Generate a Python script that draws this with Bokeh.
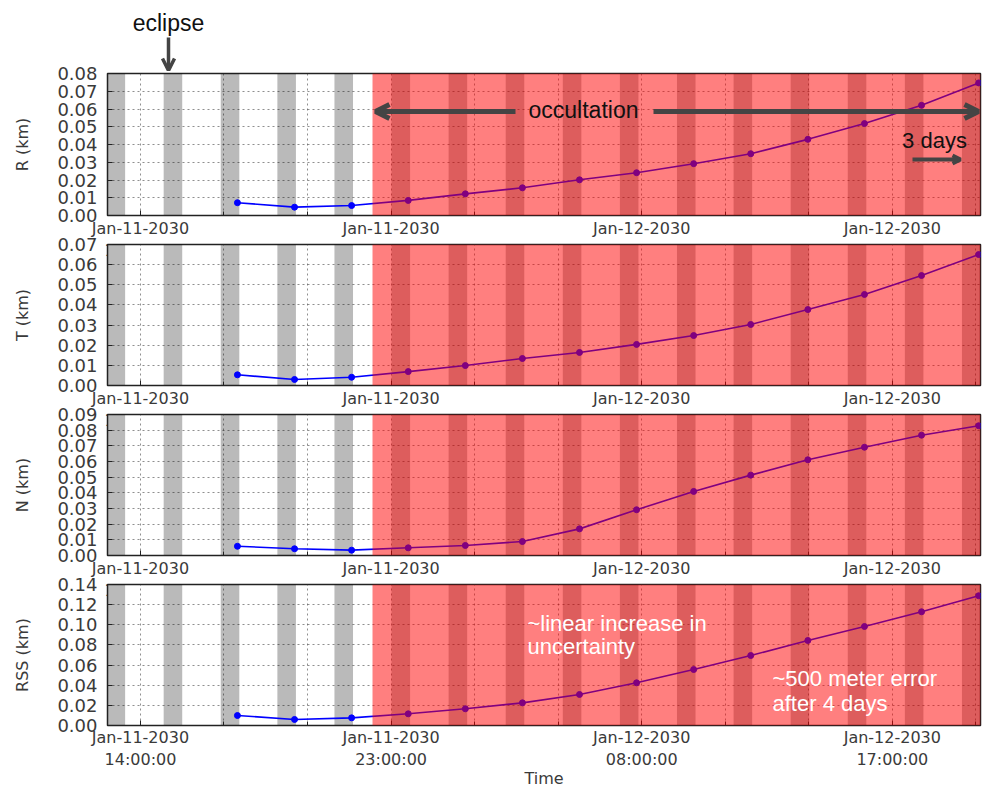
import pandas as pd
from bokeh.plotting import figure
from bokeh.models import (Range1d, FixedTicker, DatetimeTickFormatter, PrintfTickFormatter,
                          BoxAnnotation, Label, Arrow, OpenHead, ColumnDataSource)
from bokeh.layouts import column
from bokeh.embed import file_html
from bokeh.resources import INLINE

# ---------------- data ----------------
x_start = "2030-01-11 12:49"
x_end = "2030-01-12 20:10"

times = ["2030-01-11 17:29", "2030-01-11 19:32", "2030-01-11 21:35", "2030-01-11 23:37",
         "2030-01-12 01:40", "2030-01-12 03:43", "2030-01-12 05:46", "2030-01-12 07:49",
         "2030-01-12 09:52", "2030-01-12 11:55", "2030-01-12 13:58", "2030-01-12 16:00",
         "2030-01-12 18:03", "2030-01-12 20:06"]

R_km = [0.0072, 0.0047, 0.0056, 0.0085, 0.0122, 0.0156, 0.0201, 0.0241, 0.0292, 0.0348,
        0.0429, 0.0518, 0.0621, 0.0747]
T_km = [0.0053, 0.0030, 0.0041, 0.0069, 0.0099, 0.0134, 0.0164, 0.0204, 0.0248, 0.0303,
        0.0377, 0.0452, 0.0546, 0.0650]
N_km = [0.0059, 0.0043, 0.0034, 0.0049, 0.0064, 0.0089, 0.0170, 0.0292, 0.0409, 0.0513,
        0.0611, 0.0691, 0.0768, 0.0828]
RSS_km = [0.0099, 0.0060, 0.0076, 0.0116, 0.0166, 0.0225, 0.0308, 0.0424, 0.0556, 0.0695,
          0.0844, 0.0983, 0.1129, 0.1288]

eclipse_start = ["2030-01-11 12:47", "2030-01-11 14:50", "2030-01-11 16:53", "2030-01-11 18:55",
                 "2030-01-11 20:58", "2030-01-11 23:01", "2030-01-12 01:04", "2030-01-12 03:07",
                 "2030-01-12 05:10", "2030-01-12 07:13", "2030-01-12 09:16", "2030-01-12 11:18",
                 "2030-01-12 13:21", "2030-01-12 15:24", "2030-01-12 17:27", "2030-01-12 19:30"]
eclipse_end = ["2030-01-11 13:27", "2030-01-11 15:30", "2030-01-11 17:33", "2030-01-11 19:35",
               "2030-01-11 21:38", "2030-01-11 23:41", "2030-01-12 01:44", "2030-01-12 03:47",
               "2030-01-12 05:50", "2030-01-12 07:53", "2030-01-12 09:56", "2030-01-12 11:58",
               "2030-01-12 14:01", "2030-01-12 16:04", "2030-01-12 18:07", "2030-01-12 20:10"]

occultation_start = "2030-01-11 22:20"

label_ticks = ["2030-01-11 14:00", "2030-01-11 23:00", "2030-01-12 08:00", "2030-01-12 17:00"]
grid_ticks = ["2030-01-11 14:00", "2030-01-11 17:00", "2030-01-11 20:00", "2030-01-11 23:00",
              "2030-01-12 02:00", "2030-01-12 05:00", "2030-01-12 08:00", "2030-01-12 11:00",
              "2030-01-12 14:00", "2030-01-12 17:00", "2030-01-12 20:00"]

R_ticks = [0.00, 0.01, 0.02, 0.03, 0.04, 0.05, 0.06, 0.07, 0.08]
T_ticks = [0.00, 0.01, 0.02, 0.03, 0.04, 0.05, 0.06, 0.07]
N_ticks = [0.00, 0.01, 0.02, 0.03, 0.04, 0.05, 0.06, 0.07, 0.08, 0.09]
RSS_ticks = [0.00, 0.02, 0.04, 0.06, 0.08, 0.10, 0.12, 0.14]

y_labels = ["R (km)", "T (km)", "N (km)", "RSS (km)"]
x_label = "Time"


def ms(s):
    return pd.Timestamp(s).value / 1e6


TICK_FONT = "DejaVu Sans"
ANN_FONT = "Liberation Sans"
ARC = "#444444"
fmt = "%b-%d-%Y\n%H:%M:%S"
W = 990
LB = 107
RB = 10


def strip(height, margin_top=0):
    s = figure(width=W, height=height, x_range=Range1d(0, 1), y_range=Range1d(0, 1),
               output_backend="svg", toolbar_location=None, x_axis_location=None,
               y_axis_location=None, min_border_left=LB, min_border_right=RB,
               min_border_top=0, min_border_bottom=0)
    s.outline_line_color = None
    s.grid.visible = False
    s.background_fill_alpha = 0
    s.border_fill_alpha = 0
    if margin_top:
        s.margin = (margin_top, 0, 0, 0)
    return s


# ---------------- header strip (eclipse annotation) ----------------
head = strip(71)
head.add_layout(Label(x=61, y=49, x_units="screen", y_units="screen", text="eclipse",
                      text_font=ANN_FONT, text_font_size="23px", text_align="center",
                      text_baseline="middle", text_color="#111111"))
head.add_layout(Arrow(x_start=61, y_start=34, x_end=61, y_end=1, start_units="screen",
                      end_units="screen", line_width=3.5, line_color=ARC,
                      end=OpenHead(size=12, line_width=3.5, line_color=ARC)))

panels = [(y_labels[0], R_km, R_ticks), (y_labels[1], T_km, T_ticks),
          (y_labels[2], N_km, N_ticks), (y_labels[3], RSS_km, RSS_ticks)]

figs = []
for i, (ylab, vals, yt) in enumerate(panels):
    first = i == 0
    last = i == 3
    top_b = 12 if first else 10
    plot_h = 142 if first else 141
    bot_b = 54 if last else 60
    p = figure(width=W, height=top_b + plot_h + bot_b, x_axis_type="datetime",
               x_range=Range1d(ms(x_start), ms(x_end)), y_range=Range1d(yt[0], yt[-1]),
               output_backend="svg", toolbar_location=None,
               min_border_left=LB, min_border_right=RB, min_border_top=top_b,
               min_border_bottom=bot_b)
    p.margin = (-10 if first else -41, 0, 0, 0)
    p.border_fill_alpha = 0
    p.background_fill_color = "white"
    p.outline_line_color = "#222222"
    p.outline_line_width = 1.5

    ecl = ColumnDataSource(dict(left=pd.to_datetime(eclipse_start),
                                right=pd.to_datetime(eclipse_end)))
    p.quad(left="left", right="right", bottom=yt[0], top=yt[-1], source=ecl,
           fill_color="black", fill_alpha=0.27, line_alpha=0)

    src = ColumnDataSource(dict(t=pd.to_datetime(times), v=vals))
    p.line("t", "v", source=src, line_color="blue", line_width=1.6)
    p.scatter("t", "v", source=src, size=6, fill_color="blue", line_color="blue")

    p.add_layout(BoxAnnotation(left=ms(occultation_start), fill_color="red", fill_alpha=0.5,
                               line_alpha=0))

    # grids
    p.xgrid.ticker = FixedTicker(ticks=[ms(t) for t in grid_ticks])
    for g in (p.xgrid, p.ygrid):
        g.grid_line_color = "#333333"
        g.grid_line_alpha = 0.55
        g.grid_line_dash = "2 3"
        g.grid_line_width = 1

    # axes
    p.xaxis.ticker = FixedTicker(ticks=[ms(t) for t in label_ticks],
                                 minor_ticks=[ms(t) for t in grid_ticks])
    p.xaxis.formatter = DatetimeTickFormatter(
        microseconds=fmt, milliseconds=fmt, seconds=fmt, minsec=fmt, minutes=fmt,
        hourmin=fmt, hours=fmt, days=fmt, months=fmt, years=fmt)
    p.yaxis.ticker = FixedTicker(ticks=yt, minor_ticks=[])
    p.yaxis.formatter = PrintfTickFormatter(format="%.2f")
    for ax in (p.xaxis[0], p.yaxis[0]):
        ax.major_label_text_font = TICK_FONT
        ax.major_label_text_color = "#3a3a3a"
        ax.major_tick_in = 5
        ax.major_tick_out = 0
        ax.minor_tick_in = 4
        ax.minor_tick_out = 0
        ax.axis_line_color = "#222222"
        ax.major_tick_line_color = "#222222"
        ax.minor_tick_line_color = "#222222"
    p.xaxis.major_label_text_font_size = "16px"
    p.yaxis.major_label_text_font_size = "18px"
    p.xaxis.major_label_standoff = 2 if last else 3
    p.yaxis.major_label_standoff = 10
    p.yaxis.axis_label = ylab
    p.yaxis.axis_label_text_font = TICK_FONT
    p.yaxis.axis_label_text_font_style = "normal"
    p.yaxis.axis_label_text_font_size = "16px"
    p.yaxis.axis_label_text_color = "#3a3a3a"
    p.yaxis.axis_label_standoff = 22
    figs.append(p)

# ---------------- annotations (top panel) ----------------
p1 = figs[0]
p1.add_layout(Label(x=476, y=106, x_units="screen", y_units="screen", text="occultation",
                    text_font=ANN_FONT, text_font_size="23px", text_align="center",
                    text_baseline="middle", text_color="#111111"))
p1.add_layout(Arrow(x_start=408, y_start=104, x_end=268, y_end=104, start_units="screen",
                    end_units="screen", line_width=5, line_color=ARC,
                    end=OpenHead(size=14, line_width=5, line_color=ARC)))
p1.add_layout(Arrow(x_start=546, y_start=104, x_end=871, y_end=104, start_units="screen",
                    end_units="screen", line_width=5, line_color=ARC,
                    end=OpenHead(size=14, line_width=5, line_color=ARC)))
p1.add_layout(Label(x=827, y=75, x_units="screen", y_units="screen", text="3 days",
                    text_font=ANN_FONT, text_font_size="22px", text_align="center",
                    text_baseline="middle", text_color="#111111"))
p1.add_layout(Arrow(x_start=805, y_start=56, x_end=853, y_end=56, start_units="screen",
                    end_units="screen", line_width=4, line_color=ARC,
                    end=OpenHead(size=8, line_width=4, line_color=ARC)))

# ---------------- annotations (bottom panel) ----------------
p4 = figs[3]
for txt, sx, sy in [("~linear increase in", 420, 102), ("uncertainty", 420, 79),
                    ("~500 meter error", 665, 47), ("after 4 days", 665, 22)]:
    p4.add_layout(Label(x=sx, y=sy, x_units="screen", y_units="screen", text=txt,
                        text_font=ANN_FONT, text_font_size="22px", text_align="left",
                        text_baseline="middle", text_color="white"))

# ---------------- footer strip (x-axis title) ----------------
foot = strip(20, margin_top=-11)
foot.add_layout(Label(x=0.5, y=0.5, text=x_label, text_font=TICK_FONT,
                      text_font_size="16px", text_align="center", text_baseline="middle",
                      text_color="#3a3a3a"))

layout = column(head, *figs, foot)
open("out.html", "w").write(file_html(layout, INLINE))
